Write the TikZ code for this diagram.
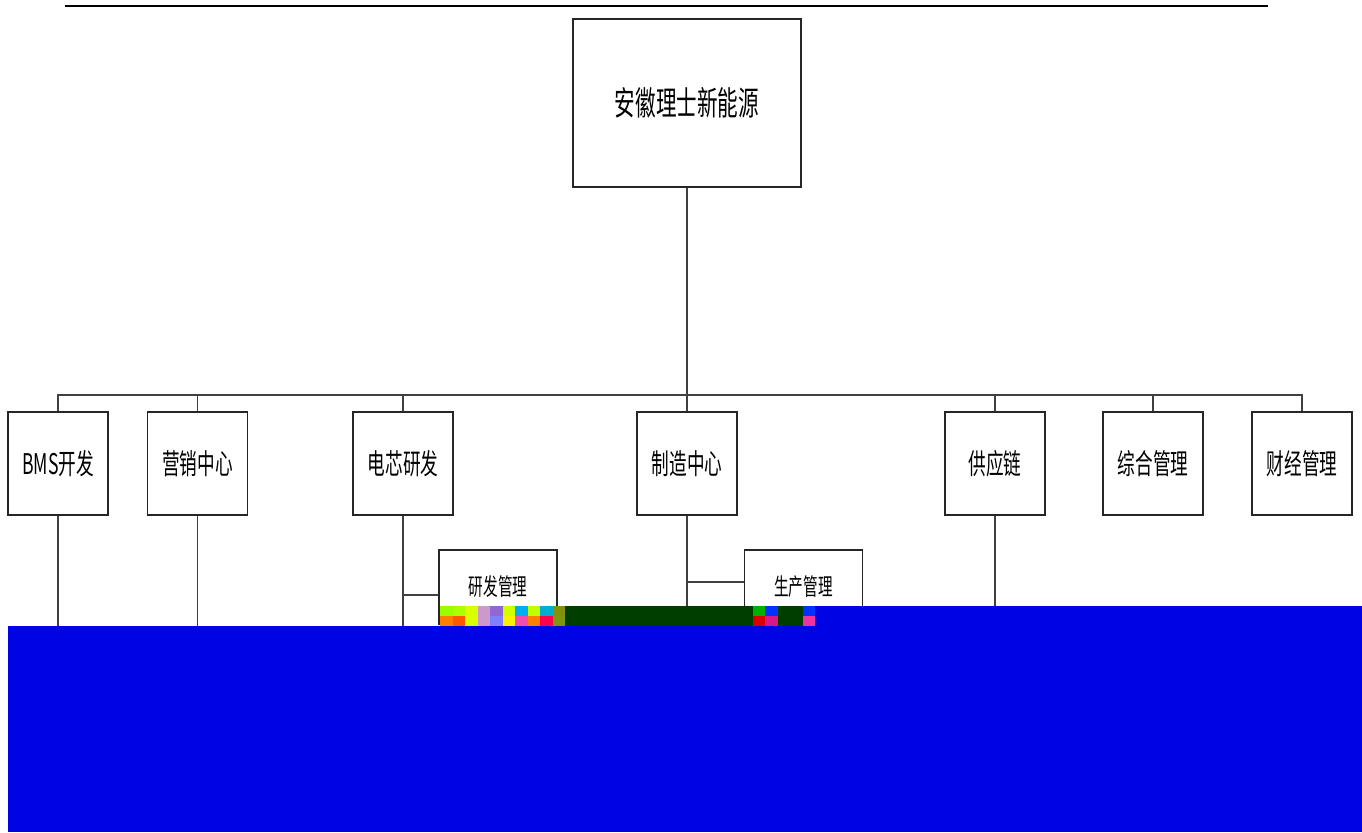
\documentclass[tikz,border=0pt]{standalone}
\usepackage{fontspec}
\setmainfont{Noto Sans CJK SC}
\newfontfamily\narrowcjk[FakeStretch=0.62]{Noto Sans CJK SC}
\usetikzlibrary{calc}
\definecolor{glitchblue}{RGB}{0,4,226}
\definecolor{glitchgreen}{RGB}{0,62,0}
\tikzstyle{unitbox}=[draw=black!85,line width=1.1pt,fill=white,inner sep=0pt,align=center]
\tikzstyle{rootbox}=[unitbox,minimum width=4.56cm,minimum height=3.36cm,font=\narrowcjk\fontsize{18.9}{20}\selectfont]
\tikzstyle{deptbox}=[unitbox,minimum width=2cm,minimum height=2.06cm,font=\narrowcjk\fontsize{16.2}{18}\selectfont]
\tikzstyle{subbox}=[unitbox,minimum width=2.36cm,minimum height=1.48cm,font=\narrowcjk\fontsize{13.4}{15}\selectfont]
\tikzstyle{link}=[draw=black!75,line width=0.6pt]

\begin{document}
\begin{tikzpicture}[x=0.02cm,y=-0.02cm]
		\useasboundingbox (0,0) rectangle (1362,832);
		% page rule
		\draw[line width=1.1pt] (65,6) -- (1268,6);
		% top
		\node[rootbox] (root) at (687,103) {安徽理士新能源};
		% departments
		\node[deptbox] (bms) at (58,463.5) {BMS开发};
		\node[deptbox] (yingxiao) at (197.5,463.5) {营销中心};
		\node[deptbox] (dianxin) at (403,463.5) {电芯研发};
		\node[deptbox] (zhizao) at (687,463.5) {制造中心};
		\node[deptbox] (gongying) at (995,463.5) {供应链};
		\node[deptbox] (zonghe) at (1153,463.5) {综合管理};
		\node[deptbox] (caijing) at (1302,463.5) {财经管理};
		% sub units
		\node[subbox] (yanfa) at (498,587) {研发管理};
		\node[subbox] (shengchan) at (803.5,587) {生产管理};
		% connection
		\coordinate (bus) at (687,395);
		\coordinate (cut) at (0,700);
		\draw[link] (root.south) -- (bus);
		\draw[link] (bms.north) -- (bms.north |- bus) -- (caijing.north |- bus) -- (caijing.north);
		\foreach \d in {yingxiao,dianxin,zhizao,gongying,zonghe}
			\draw[link] (\d.north) -- (\d.north |- bus);
		\foreach \d in {bms,yingxiao,dianxin,zhizao,gongying}
			\draw[link] (\d.south) -- (\d.south |- cut);
		\draw[link] ([yshift=-0.16cm]yanfa.west) -- ([yshift=-0.16cm]yanfa.west -| dianxin.south);
		\draw[link] ([yshift=0.1cm]shengchan.west) -- ([yshift=0.1cm]shengchan.west -| zhizao.south);
		% damaged part of the scan
		\fill[glitchblue] (8,626) rectangle (1362,832);
		\fill[glitchblue] (815,606) rectangle (1362,626);
		\fill[glitchgreen] (565,606) rectangle (753,626);
		\foreach \c [count=\i from 0] in {lime!80!green,lime!90!green,lime!60!yellow,violet!40,blue!40!violet!60,lime!70!yellow,cyan,lime,cyan!80!green,olive!80!green}
			\fill[\c] ({440+\i*12.5},606) rectangle +(12.5,10);
		\foreach \c [count=\i from 0] in {orange,orange!70!red,lime!60!yellow,violet!40,blue!50,yellow!90!lime,magenta!70,orange,red!70!magenta,olive!70!green}
			\fill[\c] ({440+\i*12.5},616) rectangle +(12.5,10);
		\foreach \c [count=\i from 0] in {green!70!black,blue!80!cyan,glitchgreen,glitchgreen,blue!80!cyan}
			\fill[\c] ({753+\i*12.4},606) rectangle +(12.4,10);
		\foreach \c [count=\i from 0] in {red!85!black,magenta!80!violet,glitchgreen,glitchgreen,magenta!80}
			\fill[\c] ({753+\i*12.4},616) rectangle +(12.4,10);
	\end{tikzpicture}
\end{document}
